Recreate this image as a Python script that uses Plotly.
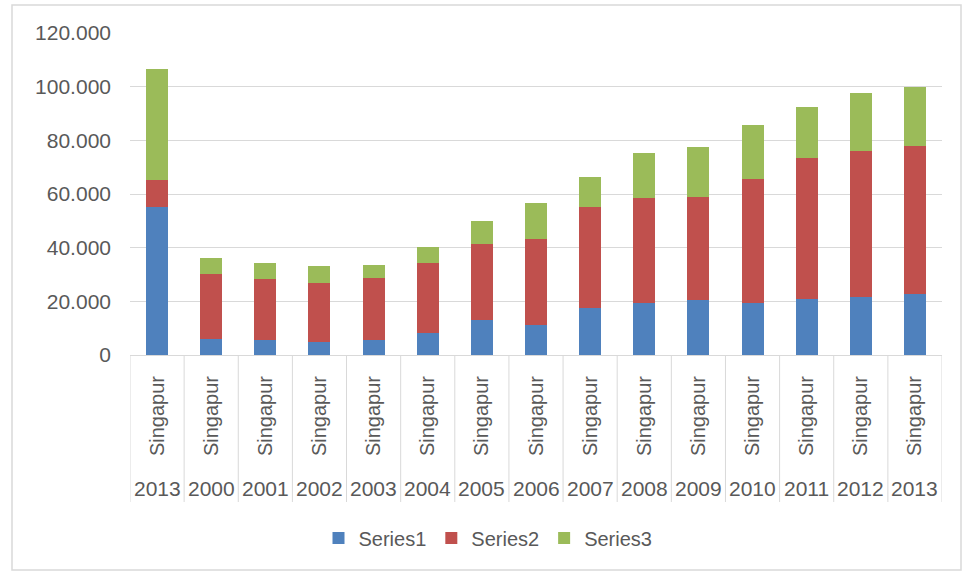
import plotly.graph_objects as go

# Stacked values per year (thousands separators shown with a dot)
years = ["2013", "2000", "2001", "2002", "2003", "2004", "2005", "2006",
         "2007", "2008", "2009", "2010", "2011", "2012", "2013"]
countries = ["Singapur"] * 15
series1 = [55200, 6000, 5600, 5000, 5600, 8300, 13000, 11200,
           17400, 19500, 20500, 19500, 20700, 21700, 22700]
series2 = [10000, 24200, 22700, 21900, 23000, 26100, 28200, 31900,
           37900, 38900, 38500, 46100, 52600, 54400, 55100]
series3 = [41400, 5900, 6000, 6300, 4900, 5700, 8700, 13400,
           11200, 16700, 18400, 20100, 19000, 21400, 22200]
series_names = ["Series1", "Series2", "Series3"]
colors = ["#4F81BD", "#C0504D", "#9BBB59"]

W, H = 969, 573
ML, MR, MT, MB = 130, 27, 33, 218
PW, PH = W - ML - MR, H - MT - MB

def px_x(p):
    return (p - ML) / PW

def px_y(p):
    return (H - MB - p) / PH

FONT = "Liberation Sans"
TXT = "#595959"
GRID = "#D9D9D9"

idx = list(range(len(years)))
fig = go.Figure()
for name, vals, col in zip(series_names, [series1, series2, series3], colors):
    fig.add_trace(go.Bar(x=idx, y=vals, name=name, marker=dict(color=col, line=dict(width=0))))

# year labels (outer category level)
for i, yr in enumerate(years):
    fig.add_annotation(x=i, y=px_y(488), xref="x", yref="paper", text=yr,
                       showarrow=False, yanchor="middle", xanchor="center",
                       font=dict(family=FONT, size=21, color=TXT))

# category divider lines
shapes = []
for i in range(len(years) + 1):
    shapes.append(dict(type="line", xref="x", yref="paper", x0=i - 0.5, x1=i - 0.5,
                       y0=0, y1=px_y(502), line=dict(color=GRID, width=1)))
# chart border
shapes.append(dict(type="rect", xref="paper", yref="paper",
                   x0=px_x(12), x1=px_x(961), y0=px_y(570), y1=px_y(5),
                   line=dict(color="#D9D9D9", width=1.5), layer="below"))

fig.update_layout(
    width=W, height=H,
    margin=dict(l=ML, r=MR, t=MT, b=MB),
    barmode="stack", bargap=0.594,
    plot_bgcolor="white", paper_bgcolor="white",
    separators=",.",
    font=dict(family=FONT, size=21, color=TXT),
    shapes=shapes,
    showlegend=True,
    legend=dict(orientation="h", x=px_x(488), xanchor="center",
                y=px_y(538), yanchor="middle",
                font=dict(family=FONT, size=20, color=TXT),
                traceorder="normal", itemclick=False),
)
fig.update_xaxes(range=[-0.5, len(years) - 0.5], tickmode="array", tickvals=idx,
                 ticktext=countries, tickangle=-90, ticks="", showgrid=False,
                 showline=True, linecolor=GRID, zeroline=False,
                 ticklabelstandoff=12, tickfont=dict(family=FONT, size=20, color=TXT))
fig.update_yaxes(range=[0, 120000], dtick=20000, tickformat=",d", showgrid=True,
                 gridcolor=GRID, gridwidth=1, zeroline=False, showline=False,
                 ticks="", ticklabelstandoff=18,
                 tickfont=dict(family=FONT, size=21, color=TXT))

fig.write_html("out.html")
